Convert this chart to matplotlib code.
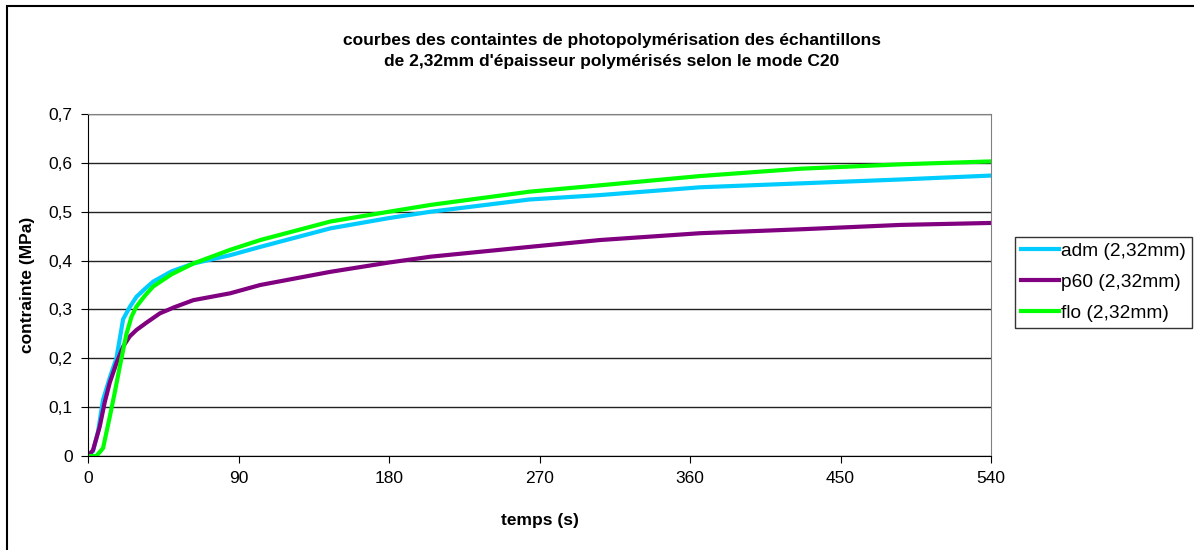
import matplotlib.pyplot as plt
from matplotlib.patches import Rectangle
from matplotlib.ticker import FuncFormatter

plt.rcParams['font.family'] = ['Liberation Sans', 'DejaVu Sans']

# temps (s) et contraintes (MPa)
t_adm = [0, 3, 6, 9, 13, 17, 21, 25, 29, 34, 39, 50, 63, 85, 103, 145, 180, 205, 264, 306, 366, 426, 486, 540]
v_adm = [0, 0.01, 0.05, 0.115, 0.16, 0.2, 0.28, 0.305, 0.326, 0.342, 0.357, 0.378, 0.394, 0.411, 0.428, 0.466, 0.487, 0.5, 0.525, 0.534, 0.55, 0.558, 0.566, 0.574]

t_p60 = [0, 3, 7, 10, 13, 17, 21, 25, 29, 35, 43, 52, 63, 85, 103, 145, 180, 205, 264, 306, 366, 426, 486, 540]
v_p60 = [0, 0.012, 0.06, 0.11, 0.15, 0.19, 0.224, 0.245, 0.258, 0.273, 0.292, 0.305, 0.319, 0.333, 0.35, 0.377, 0.396, 0.408, 0.428, 0.442, 0.456, 0.464, 0.473, 0.477]

t_flo = [0, 5, 9, 13, 16, 19, 23, 26, 29, 34, 39, 50, 63, 85, 103, 145, 180, 205, 264, 306, 366, 426, 486, 540]
v_flo = [0, 0, 0.016, 0.08, 0.13, 0.183, 0.25, 0.285, 0.306, 0.328, 0.347, 0.372, 0.394, 0.422, 0.442, 0.48, 0.5, 0.514, 0.541, 0.554, 0.573, 0.588, 0.597, 0.603]

fig = plt.figure(figsize=(11.94, 5.5), dpi=100)
ax = fig.add_axes([88 / 1194, 1 - 456 / 550, (991 - 88) / 1194, (456 - 114) / 550])

ax.plot(t_adm, v_adm, color='#00ccff', lw=3, label='adm (2,32mm)')
ax.plot(t_p60, v_p60, color='#800080', lw=3, label='p60 (2,32mm)')
ax.plot(t_flo, v_flo, color='#00ff00', lw=3, label='flo (2,32mm)')

ax.set_xlim(0, 540)
ax.set_ylim(0, 0.7)
ax.set_xticks(range(0, 541, 90))
ax.set_yticks([i / 10 for i in range(8)])
ax.yaxis.set_major_formatter(FuncFormatter(lambda v, p: ('%g' % round(v, 1)).replace('.', ',')))
ax.grid(axis='y', color='#222222', lw=1)
ax.set_axisbelow(True)
ax.tick_params(labelsize=12.5, length=5, color='black', pad=6)

for s in ['top', 'right']:
    ax.spines[s].set_color('#808080')
for s in ['left', 'bottom']:
    ax.spines[s].set_color('black')

ax.set_xlabel('temps (s)', fontsize=12.5, fontweight='bold', labelpad=19)
ax.set_ylabel('contrainte (MPa)', fontsize=12.5, fontweight='bold', labelpad=10)

fig.text(612 / 1194, 1 - 51 / 550, "courbes des containtes de photopolymérisation des échantillons\n"
         "de 2,32mm d'épaisseur polymérisés selon le mode C20",
         ha='center', va='center', fontsize=12.5, fontweight='bold', linespacing=1.45)

leg = ax.legend(loc='upper left', bbox_to_anchor=(1015 / 1194, 1 - 237 / 550),
                bbox_transform=fig.transFigure, frameon=True, fancybox=False,
                edgecolor='black', fontsize=13.8, handlelength=2.0, handletextpad=0.1,
                borderpad=0.3, labelspacing=0.7, borderaxespad=0)
leg.get_frame().set_linewidth(1)

fig.patches.append(Rectangle((7 / 1194, -0.1), 1.2, 1 - 6 / 550 + 0.1, transform=fig.transFigure,
                             fill=False, edgecolor='black', lw=1.5))

fig.savefig('out.png', dpi=100)
